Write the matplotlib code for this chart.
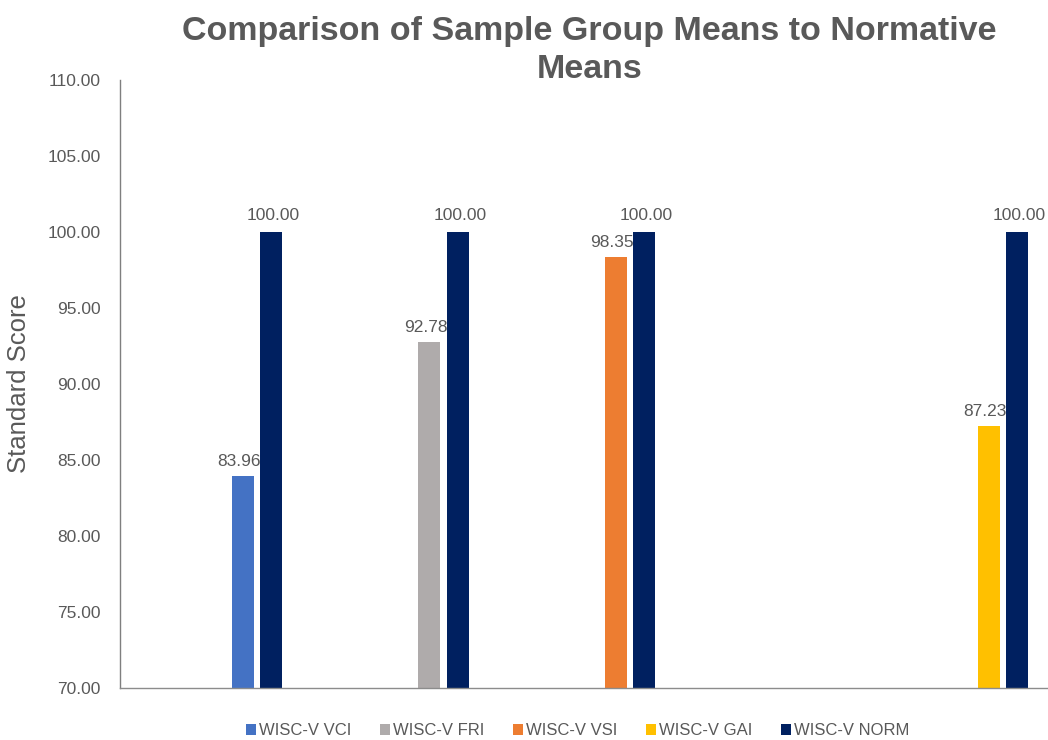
import matplotlib.pyplot as plt
import numpy as np

plt.rcParams['font.family'] = ['Liberation Sans', 'DejaVu Sans']

sample_labels = ["WISC-V VCI", "WISC-V FRI", "WISC-V VSI", "WISC-V GAI"]
sample_means = [83.96, 92.78, 98.35, 87.23]
sample_groups = [0, 1, 2, 4]  # category slot of each sample (slot 3 is empty)
norm_label = "WISC-V NORM"
norm_means = [100.00, 100.00, 100.00, 100.00]
n_categories = 5

sample_colors = ["#4472C4", "#AFABAB", "#ED7D31", "#FFC000"]
norm_color = "#002060"
text_color = "#595959"

fig = plt.figure(figsize=(10.48, 7.40), dpi=100)
ax = fig.add_axes([0.1145, 0.0703, 0.890, 0.8216])

bar_w = 0.118
off_sample = 0.158
off_norm = 0.311
pos = np.array(sample_groups)

handles = []
for i, label in enumerate(sample_labels):
    b = ax.bar(pos[i] + off_sample, sample_means[i] - 70, bottom=70, width=bar_w,
               color=sample_colors[i], label=label)
    handles.append(b)
    ax.text(pos[i] + off_sample - 0.02, sample_means[i] + 0.45, f"{sample_means[i]:.2f}",
            ha="center", va="bottom", fontsize=12.5, color=text_color)

nb = ax.bar(pos + off_norm, np.array(norm_means) - 70, bottom=70, width=bar_w,
            color=norm_color, label=norm_label)
handles.append(nb)
for p, v in zip(pos, norm_means):
    ax.text(p + off_norm + 0.01, v + 0.6, f"{v:.2f}", ha="center", va="bottom",
            fontsize=12.5, color=text_color)

ax.set_xlim(-0.5, n_categories - 0.5)
ax.set_ylim(70, 110)
ax.set_yticks(np.arange(70, 110.1, 5))
ax.set_yticklabels([f"{t:.2f}" for t in np.arange(70, 110.1, 5)])
ax.set_xticks([])
ax.tick_params(axis="y", length=0, pad=14, labelsize=12.5, labelcolor=text_color)

for side in ["top", "right"]:
    ax.spines[side].set_visible(False)
ax.spines["left"].set_color("#7f7f7f")
ax.spines["bottom"].set_color("#8c8c8c")
ax.spines["left"].set_linewidth(1.0)
ax.spines["bottom"].set_linewidth(1.0)

ax.set_ylabel("Standard Score", fontsize=18.5, color=text_color, labelpad=12)

fig.text(0.5625, 0.978, "Comparison of Sample Group Means to Normative\nMeans",
         ha="center", va="top", fontsize=24.5, fontweight="bold", color=text_color,
         linespacing=1.3)

fig.legend(handles=handles, loc="lower center", bbox_to_anchor=(0.551, -0.018), ncol=5,
           frameon=False, fontsize=12, labelcolor=text_color, handlelength=0.6,
           handleheight=0.6, handletextpad=0.2, columnspacing=1.7)

fig.savefig("out.png", dpi=100)
